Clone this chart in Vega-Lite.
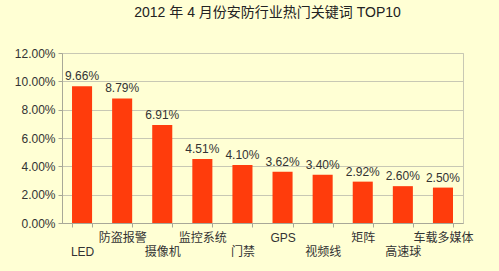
{
  "$schema": "https://vega.github.io/schema/vega-lite/v6.json",
  "autosize": "none",
  "width": 401,
  "height": 170,
  "padding": {"left": 62, "top": 53, "right": 36, "bottom": 48},
  "background": "#FFFFD4",
  "title": {
    "text": "2012 年 4 月份安防行业热门关键词 TOP10",
    "font": "Liberation Sans, Noto Sans CJK SC",
    "fontSize": 14,
    "fontWeight": "normal",
    "color": "#222222",
    "anchor": "middle",
    "offset": 27,
    "dx": 5
  },
  "config": {
    "view": {"stroke": "#C8C8B4", "strokeWidth": 1},
    "font": "Liberation Sans, Noto Sans CJK SC"
  },
  "data": {
    "values": [
      {"k": "LED", "v": 0.0966},
      {"k": "防盗报警", "v": 0.0879},
      {"k": "摄像机", "v": 0.0691},
      {"k": "监控系统", "v": 0.0451},
      {"k": "门禁", "v": 0.0410},
      {"k": "GPS", "v": 0.0362},
      {"k": "视频线", "v": 0.0340},
      {"k": "矩阵", "v": 0.0292},
      {"k": "高速球", "v": 0.0260},
      {"k": "车载多媒体", "v": 0.0250}
    ]
  },
  "encoding": {
    "x": {
      "field": "k",
      "type": "nominal",
      "sort": null,
      "title": null,
      "scale": {"paddingInner": 0.5, "paddingOuter": 0.25},
      "axis": {
        "labelAngle": 0,
        "labelFont": "Liberation Sans, Noto Sans CJK SC",
        "labelFontSize": 12,
        "labelColor": "#333333",
        "labelBaseline": "top",
        "labelPadding": {"condition": {"test": "indexof(['LED','摄像机','门禁','视频线','高速球'], datum.value) >= 0", "value": 19}, "value": 5},
        "labelOverlap": false,
        "domainColor": "#A8A898",
        "tickColor": "#A8A898",
        "tickBand": "extent",
        "tickSize": 4,
        "grid": false
      }
    },
    "y": {
      "field": "v",
      "type": "quantitative",
      "title": null,
      "scale": {"domain": [0, 0.12]},
      "axis": {
        "format": ".2%",
        "values": [0, 0.02, 0.04, 0.06, 0.08, 0.1, 0.12],
        "labelFont": "Liberation Sans",
        "labelFontSize": 12,
        "labelColor": "#333333",
        "labelPadding": 3,
        "domainColor": "#A8A898",
        "tickColor": "#A8A898",
        "tickSize": 4,
        "gridColor": "#C8C8B4",
        "gridOpacity": 1
      }
    }
  },
  "layer": [
    {"mark": {"type": "bar", "color": "#FF3C0C"}},
    {
      "mark": {"type": "text", "dy": -10, "fontSize": 12, "color": "#333333", "font": "Liberation Sans"},
      "encoding": {"text": {"field": "v", "type": "quantitative", "format": ".2%"}}
    }
  ]
}
